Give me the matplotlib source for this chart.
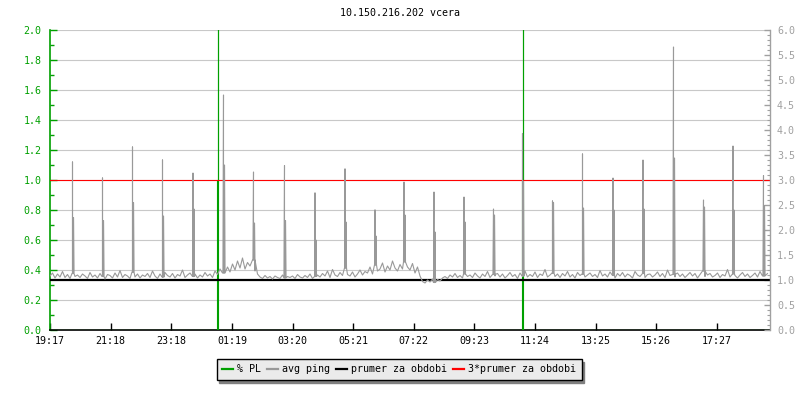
import numpy as np
import matplotlib
matplotlib.use("Agg")
import matplotlib.pyplot as plt
from matplotlib.lines import Line2D

title = "10.150.216.202 vcera"

# x axis in minutes from 19:17
tick_min = [0, 121, 242, 364, 485, 606, 727, 848, 970, 1091, 1212, 1333]
tick_labels = ["19:17", "21:18", "23:18", "01:19", "03:20", "05:21",
               "07:22", "09:23", "11:24", "13:25", "15:26", "17:27"]

# avg ping baseline [ms], one value per 5 minutes (one row = one hour)
ping_base = [
    1.08, 1.14, 1.04, 1.12, 1.06, 1.17, 1.05, 1.11, 1.03, 1.13, 1.07, 1.10,
    1.05, 1.12, 1.08, 1.03, 1.15, 1.06, 1.10, 1.04, 1.13, 1.07, 1.02, 1.11,
    1.09, 1.04, 1.14, 1.06, 1.19, 1.05, 1.11, 1.08, 1.03, 1.16, 1.06, 1.12,
    1.04, 1.10, 1.07, 1.13, 1.05, 1.18, 1.08, 1.03, 1.12, 1.06, 1.15, 1.09,
    1.06, 1.13, 1.04, 1.11, 1.08, 1.20, 1.05, 1.10, 1.14, 1.07, 1.12, 1.04,
    1.10, 1.06, 1.15, 1.08, 1.12, 1.05, 1.18, 1.11, 1.22, 1.14, 1.19, 1.26,
    1.16, 1.32, 1.20, 1.38, 1.24, 1.44, 1.22, 1.35, 1.28, 1.40, 1.18, 1.12,
    1.06, 1.03, 1.09, 1.04, 1.07, 1.02, 1.08, 1.05, 1.03, 1.10, 1.04, 1.07,
    1.05, 1.08, 1.03, 1.11, 1.06, 1.04, 1.09, 1.05, 1.12, 1.03, 1.07, 1.10,
    1.06, 1.13, 1.08, 1.18, 1.05, 1.21, 1.10, 1.07, 1.15, 1.09, 1.24, 1.11,
    1.08, 1.16, 1.06, 1.12, 1.20, 1.10, 1.17, 1.14, 1.26, 1.12, 1.30, 1.18,
    1.22, 1.34, 1.16, 1.28, 1.20, 1.38, 1.24, 1.18, 1.31, 1.22, 1.36, 1.26,
    1.20, 1.33, 1.14, 1.26, 1.08, 0.97, 0.94, 1.00, 0.96, 1.02, 0.95, 1.01,
    0.98, 1.04, 1.07, 1.03, 1.10, 1.06, 1.13, 1.05, 1.09, 1.04, 1.12, 1.07,
    1.10, 1.05, 1.14, 1.08, 1.04, 1.12, 1.07, 1.17, 1.05, 1.11, 1.08, 1.13,
    1.06, 1.12, 1.04, 1.09, 1.15, 1.07, 1.11, 1.03, 1.14, 1.08, 1.18, 1.06,
    1.11, 1.07, 1.16, 1.05, 1.12, 1.09, 1.21, 1.06, 1.10, 1.14, 1.07, 1.12,
    1.05, 1.13, 1.08, 1.17, 1.06, 1.11, 1.04, 1.15, 1.09, 1.12, 1.06, 1.10,
    1.14, 1.07, 1.11, 1.05, 1.19, 1.08, 1.12, 1.06, 1.16, 1.09, 1.04, 1.13,
    1.08, 1.15, 1.06, 1.12, 1.09, 1.04, 1.17, 1.10, 1.07, 1.13, 1.05, 1.11,
    1.12, 1.06, 1.10, 1.16, 1.07, 1.13, 1.05, 1.20, 1.09, 1.11, 1.06, 1.14,
    1.07, 1.12, 1.05, 1.10, 1.15, 1.08, 1.13, 1.04, 1.11, 1.18, 1.07, 1.10,
    1.13, 1.06, 1.09, 1.14, 1.05, 1.11, 1.08, 1.21, 1.06, 1.12, 1.09, 1.04,
    1.10, 1.15, 1.07, 1.12, 1.05, 1.09, 1.14, 1.06, 1.17, 1.08, 1.11, 1.13,
]

# hourly ping spikes [min, ms]
spike_t = [45, 105, 165, 225, 286, 347, 407, 469, 530, 590, 650, 708,
           768, 828, 887, 945, 1005, 1065, 1126, 1186, 1247, 1307, 1366, 1427]
spike_top = [3.36, 3.04, 3.66, 3.40, 3.14, 4.70, 3.16, 3.29, 2.74, 3.22, 2.40, 2.96,
             2.76, 2.66, 2.42, 3.93, 2.58, 3.52, 3.04, 3.40, 5.66, 2.60, 3.68, 3.09]
spike_second = [2.25, 2.19, 2.55, 2.28, 2.42, 3.30, 2.14, 2.19, 1.80, 2.16, 1.88, 2.30,
                1.96, 2.16, 2.30, 2.97, 2.55, 2.44, 2.40, 2.42, 3.44, 2.46, 2.40, 2.49]

# packet loss [%]
pl_t = [0, 334, 334, 336, 336, 336, 944, 944, 946, 946, 946, 1440]
pl_v = [0, 0, 1.0, 1.0, 100, 0, 0, 1.0, 1.0, 100, 0, 0]

mean_ping = 1.0

GREEN = "#00a000"
GREY = "#999999"
AXGREY = "#a0a0a0"

plt.rcParams["font.family"] = ["DejaVu Sans Mono"]
plt.rcParams["font.size"] = 7.2

# build ping series: baseline + spikes (top, then a lower second sample)
step = 5
t_list = list(np.arange(len(ping_base)) * float(step))
v_list = list(ping_base)
for t, top, sec in zip(spike_t, spike_top, spike_second):
    floor = ping_base[min(int(round(t / step)), len(ping_base) - 1)]
    t_list += [t - 1, t, t, t + 2, t + 2, t + 3]
    v_list += [floor, top, floor, floor, sec, floor]
order = np.argsort(t_list, kind="stable")
ping_t = np.array(t_list)[order]
ping_v = np.array(v_list)[order]

fig = plt.figure(figsize=(8, 4), dpi=100)
ax = fig.add_axes([50 / 800, 1 - 330 / 400, 720 / 800, 300 / 400])
ax2 = ax.twinx()

ax.plot(pl_t, pl_v, color=GREEN, lw=0.8, zorder=3)
ax2.axhline(mean_ping, color="black", lw=1.6, zorder=2)
ax2.axhline(3 * mean_ping, color="red", lw=0.8, zorder=2)
ax2.plot(ping_t, ping_v, color=GREY, lw=0.8, zorder=3)

ax.set_xlim(0, 1440)
ax.set_ylim(0, 2.0)
ax2.set_ylim(0, 6.0)

ax.set_xticks(tick_min)
ax.set_xticklabels(tick_labels)
ax.set_yticks(np.arange(0, 2.01, 0.2))
ax.set_yticks(np.arange(0, 2.01, 0.1), minor=True)
ax.set_yticklabels([f"{v:.1f}" for v in np.arange(0, 2.01, 0.2)])
ax2.set_yticks(np.arange(0, 6.01, 0.5))
ax2.set_yticks(np.arange(0, 6.01, 0.1), minor=True)
ax2.set_yticklabels([f"{v:.1f}" for v in np.arange(0, 6.01, 0.5)])

ax.grid(axis="y", which="major", color="#c8c8c8", lw=0.8)
ax.set_axisbelow(True)

for s in ["top", "right"]:
    ax.spines[s].set_visible(False)
for s in ["top", "left", "bottom"]:
    ax2.spines[s].set_visible(False)
ax.spines["left"].set_color(GREEN)
ax.spines["left"].set_linewidth(1.2)
ax.spines["bottom"].set_color("black")
ax.spines["bottom"].set_linewidth(1.2)
ax2.spines["right"].set_color(AXGREY)
ax2.spines["right"].set_linewidth(1.0)

ax.tick_params(axis="y", which="major", direction="in", length=5, width=1,
               color=GREEN, labelcolor=GREEN, pad=6)
ax.tick_params(axis="y", which="minor", direction="in", length=3, width=1, color=GREEN)
ax.tick_params(axis="x", direction="in", length=5, width=1, color="black", pad=4)
ax2.tick_params(axis="y", which="major", direction="in", length=4, width=1,
                color=AXGREY, labelcolor=AXGREY, pad=5)
ax2.tick_params(axis="y", which="minor", direction="in", length=2.5, width=0.8, color=AXGREY)

fig.text(0.5, 1 - 13 / 400, title, ha="center", va="center", color="black")

handles = [Line2D([], [], color=GREEN, lw=1.6),
           Line2D([], [], color=GREY, lw=1.6),
           Line2D([], [], color="black", lw=1.6),
           Line2D([], [], color="red", lw=1.6)]
labels = ["% PL", "avg ping", "prumer za obdobi", "3*prumer za obdobi"]
leg = fig.legend(handles, labels, ncol=4, loc="upper center",
                 bbox_to_anchor=(0.4988, 1 - 359 / 400), bbox_transform=fig.transFigure,
                 borderaxespad=0, handlelength=1.1, handletextpad=0.4,
                 columnspacing=0.6, borderpad=0.55, fancybox=False,
                 shadow={"color": "#808080", "alpha": 1.0}, frameon=True)
leg.get_frame().set_facecolor("#ebebeb")
leg.get_frame().set_edgecolor("black")
leg.get_frame().set_linewidth(1.0)
leg.get_frame().set_alpha(1.0)

fig.savefig("out.png", dpi=100)
